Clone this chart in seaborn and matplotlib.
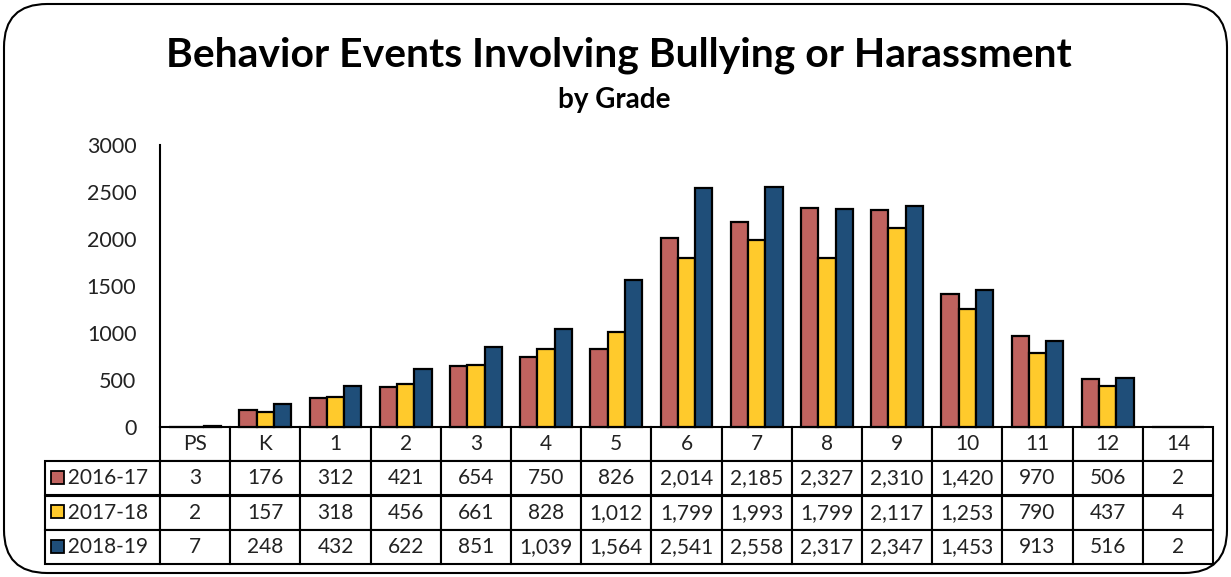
import matplotlib
matplotlib.use("Agg")
import matplotlib.pyplot as plt
import seaborn as sns
import pandas as pd
from matplotlib.patches import FancyBboxPatch, Rectangle

grades = ["PS", "K", "1", "2", "3", "4", "5", "6", "7", "8", "9", "10", "11", "12", "14"]
years = ["2016-17", "2017-18", "2018-19"]
events_2016 = [3, 176, 312, 421, 654, 750, 826, 2014, 2185, 2327, 2310, 1420, 970, 506, 2]
events_2017 = [2, 157, 318, 456, 661, 828, 1012, 1799, 1993, 1799, 2117, 1253, 790, 437, 4]
events_2018 = [7, 248, 432, 622, 851, 1039, 1564, 2541, 2558, 2317, 2347, 1453, 913, 516, 2]
colors = ["#C0635F", "#FFCA2C", "#1F4E79"]

series = [events_2016, events_2017, events_2018]
df = pd.DataFrame({
    "grade": grades * 3,
    "year": [y for y in years for _ in grades],
    "events": events_2016 + events_2017 + events_2018,
})

sns.set_style("white")
plt.rcParams["font.family"] = ["Lato", "DejaVu Sans"]

W, H = 1231, 577
fig = plt.figure(figsize=(W / 100, H / 100), dpi=100)
ax = fig.add_axes([160 / W, 1 - 427 / H, 1053 / W, 282 / H])

sns.barplot(data=df, x="grade", y="events", hue="year", order=grades, hue_order=years,
            palette=colors, saturation=1, edgecolor="black", linewidth=1.6,
            width=0.74, ax=ax)
ax.legend_.remove()
for bar in ax.patches:
    bar.set_clip_on(False)
    bar.set_zorder(5)
ax.set_xlim(-0.5, len(grades) - 0.5)
ax.set_ylim(0, 3000)
ax.set_yticks(range(0, 3001, 500))
ax.tick_params(axis="y", length=0, labelsize=15.5, pad=17, colors="#222222")
ax.tick_params(axis="x", bottom=False, labelbottom=False)
ax.set_xlabel("")
ax.set_ylabel("")
for s in ["top", "right", "bottom"]:
    ax.spines[s].set_visible(False)
ax.spines["left"].set_color("black")
ax.spines["left"].set_linewidth(1.5)

# data table under the bars: first column holds the series names
label_w = 115 / 1053
col_w = 1 / len(grades)
cell_text = [["  " + y] + [f"{v:,}" for v in s] for y, s in zip(years, series)]
tbl = ax.table(cellText=cell_text, colLabels=[""] + grades,
               cellLoc="center", colLoc="center",
               colWidths=[label_w] + [col_w] * len(grades),
               bbox=[-label_w, -137 / 282, 1 + label_w, 137 / 282])
tbl.auto_set_font_size(False)
tbl.set_fontsize(15)
for (r, c), cell in tbl.get_celld().items():
    cell.set_edgecolor("black")
    cell.set_linewidth(1.5)
    cell.get_text().set_color("#222222")
    if r == 0 and c == 0:
        cell.visible_edges = ""

# legend keys in the row labels
row_mid = [477, 511, 546]
for ym, col in zip(row_mid, colors):
    fig.add_artist(Rectangle((51 / W, 1 - (ym + 6.5) / H), 13 / W, 13 / H,
                             transform=fig.transFigure, facecolor=col,
                             edgecolor="black", linewidth=1.3))

fig.text(619 / W, 1 - 55 / H, "Behavior Events Involving Bullying or Harassment",
         ha="center", va="center", fontsize=29.4, fontweight="bold", color="black")
fig.text(614 / W, 1 - 100 / H, "by Grade", ha="center", va="center",
         fontsize=20, fontweight="bold", color="black")

fig.add_artist(FancyBboxPatch((4 / W, 4 / H), (W - 8) / W, (H - 8) / H,
                              boxstyle="round,pad=0,rounding_size=0.035",
                              transform=fig.transFigure, facecolor="none",
                              edgecolor="black", linewidth=1.5,
                              mutation_aspect=W / H))

fig.savefig("out.png", dpi=100)
